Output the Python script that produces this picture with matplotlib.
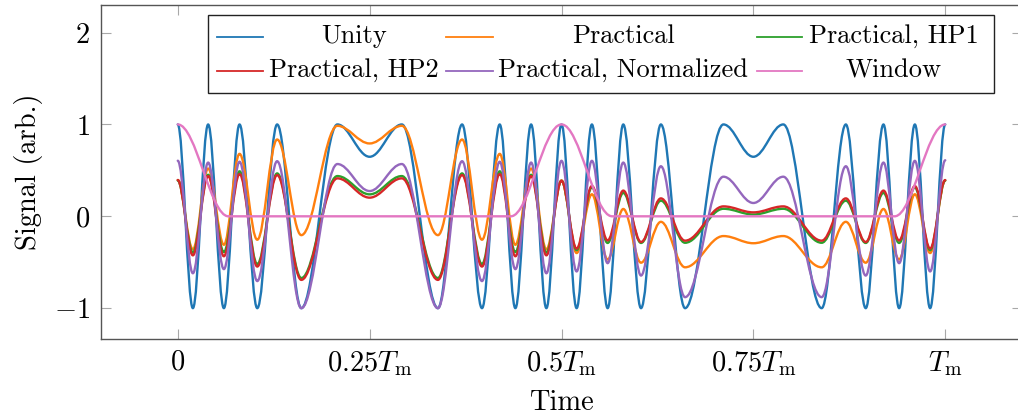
import matplotlib
matplotlib.use("Agg")
import matplotlib.pyplot as plt
from matplotlib.path import Path
from matplotlib.patches import PathPatch, Rectangle
from matplotlib.lines import Line2D

plt.rcParams["mathtext.fontset"] = "cm"
plt.rcParams["font.family"] = "cmr10"
plt.rcParams["axes.unicode_minus"] = False

# Turning points of the traces, time in units of T_m
t_ext = [0.0, 0.0197, 0.0396, 0.0601, 0.0805, 0.1036, 0.1295, 0.1610, 0.2080,
         0.2500, 0.2920, 0.3390, 0.3705, 0.3964, 0.4195, 0.4399, 0.4604, 0.4803,
         0.5000, 0.5197, 0.5396, 0.5601, 0.5805, 0.6036, 0.6295, 0.6610, 0.7110,
         0.7500, 0.7890, 0.8390, 0.8705, 0.8964, 0.9195, 0.9399, 0.9604, 0.9803,
         1.0000]

unity = [1.0, -1.0, 1.0, -1.0, 1.0, -1.0, 1.0, -1.0, 1.0,
         0.648, 1.0, -1.0, 1.0, -1.0, 1.0, -1.0, 1.0, -1.0,
         1.0, -1.0, 1.0, -1.0, 1.0, -1.0, 1.0, -1.0, 1.0,
         0.648, 1.0, -1.0, 1.0, -1.0, 1.0, -1.0, 1.0, -1.0,
         1.0]

practical = [0.395, -0.36, 0.52, -0.31, 0.68, -0.255, 0.836, -0.205, 0.985,
             0.793, 0.985, -0.205, 0.836, -0.255, 0.68, -0.31, 0.52, -0.36,
             0.39, -0.40, 0.24, -0.47, 0.08, -0.505, -0.06, -0.555, -0.215,
             -0.293, -0.215, -0.555, -0.06, -0.505, 0.08, -0.47, 0.24, -0.40,
             0.39]

practical_hp1 = [0.39, -0.395, 0.452, -0.39, 0.49, -0.52, 0.467, -0.672, 0.438,
                 0.239, 0.438, -0.672, 0.467, -0.52, 0.49, -0.39, 0.452, -0.395,
                 0.387, -0.368, 0.315, -0.29, 0.255, -0.29, 0.17, -0.288, 0.082,
                 0.02, 0.082, -0.288, 0.17, -0.29, 0.255, -0.29, 0.315, -0.368,
                 0.39]

practical_hp2 = [0.395, -0.425, 0.438, -0.435, 0.46, -0.547, 0.449, -0.692, 0.413,
                 0.203, 0.413, -0.692, 0.449, -0.547, 0.46, -0.435, 0.438, -0.425,
                 0.387, -0.352, 0.33, -0.262, 0.28, -0.28, 0.195, -0.265, 0.108,
                 0.043, 0.108, -0.265, 0.195, -0.28, 0.28, -0.262, 0.33, -0.352,
                 0.395]

practical_norm = [0.605, -0.62, 0.585, -0.575, 0.594, -0.705, 0.60, -1.0, 0.569,
                  0.275, 0.569, -1.0, 0.60, -0.705, 0.594, -0.575, 0.585, -0.62,
                  0.604, -0.60, 0.604, -0.51, 0.585, -0.645, 0.545, -0.88, 0.431,
                  0.145, 0.431, -0.88, 0.545, -0.645, 0.585, -0.51, 0.604, -0.60,
                  0.61]

# Window: plateau tops and the feet of each taper
t_window = [0.0, 0.066, 0.434, 0.5, 0.566, 0.934, 1.0]
window = [1.0, 0.0, 0.0, 1.0, 0.0, 0.0, 1.0]

labels = ["Unity", "Practical", "Practical, HP1", "Practical, HP2",
          "Practical, Normalized", "Window"]
colors = ["#1f77b4", "#ff7f0e", "#2ca02c", "#d62728", "#9467bd", "#e377c2"]

x_ticks = [0.0, 0.25, 0.5, 0.75, 1.0]
x_tick_labels = [r"$0$", r"$0.25T_\mathrm{m}$", r"$0.5T_\mathrm{m}$",
                 r"$0.75T_\mathrm{m}$", r"$T_\mathrm{m}$"]
y_ticks = [-1, 0, 1, 2]
y_tick_labels = [r"$-1$", r"$0$", r"$1$", r"$2$"]


def smooth_path(t, v, a=0.3634):
    """Cubic Bezier through turning points with flat tangents (half-cosine shape)."""
    verts = [(t[0], v[0])]
    codes = [Path.MOVETO]
    for i in range(len(t) - 1):
        dt = t[i + 1] - t[i]
        verts += [(t[i] + a * dt, v[i]), (t[i + 1] - a * dt, v[i + 1]),
                  (t[i + 1], v[i + 1])]
        codes += [Path.CURVE4] * 3
    return Path(verts, codes)


W, H = 1018, 416
fig = plt.figure(figsize=(W / 100, H / 100), dpi=100)
ax_l, ax_r, ax_t, ax_b = 101, 1022, 5, 338.5
ax = fig.add_axes([ax_l / W, (H - ax_b) / H, (ax_r - ax_l) / W, (ax_b - ax_t) / H])
ax.set_xlim(-0.1, 1.1)
ax.set_ylim(-1.33, 2.3)

traces = [(t_ext, unity), (t_ext, practical), (t_ext, practical_hp1),
          (t_ext, practical_hp2), (t_ext, practical_norm), (t_window, window)]
for (tt, vv), c in zip(traces, colors):
    ax.add_patch(PathPatch(smooth_path(tt, vv), fill=False, edgecolor=c,
                           lw=1.7, capstyle="round", joinstyle="round"))

ax.set_xticks(x_ticks)
ax.set_xticklabels(x_tick_labels)
ax.set_yticks(y_ticks)
ax.set_yticklabels(y_tick_labels)
ax.tick_params(direction="in", length=7.5, width=0.8, color="#a8a8a8",
               top=True, right=True, labelsize=20.5, pad=8)
for s in ax.spines.values():
    s.set_color("#555555")
    s.set_linewidth(1.0)

ax.set_xlabel("Time", fontsize=20.5, labelpad=8)
ax.set_ylabel("Signal (arb.)", fontsize=20.5, labelpad=8)


def axc(px, py):
    return ((px - ax_l) / (ax_r - ax_l), (ax_b - py) / (ax_b - ax_t))


# Legend: three columns, two rows, centered entry text
x0, y0 = axc(208, 93)
x1, y1 = axc(994, 15)
ax.add_patch(Rectangle((x0, y0), x1 - x0, y1 - y0, transform=ax.transAxes,
                       facecolor="white", edgecolor="#222222", lw=1.0,
                       zorder=10, clip_on=False))
line_cols = [(216.7, 263.3), (446.0, 492.7), (756.7, 802.3)]
text_cols = [354.0, 623.5, 894.0]
rows = [37.3, 71.0]
for k, (lab, c) in enumerate(zip(labels, colors)):
    r, col = divmod(k, 3)
    la, lb = line_cols[col]
    (xa, ya), (xb, _) = axc(la, rows[r]), axc(lb, rows[r])
    ax.add_line(Line2D([xa, xb], [ya, ya], transform=ax.transAxes, color=c,
                       lw=1.3, zorder=11, clip_on=False))
    tx, ty = axc(text_cols[col], rows[r] + 6.0)
    ax.text(tx, ty, lab, transform=ax.transAxes, ha="center", va="baseline",
            fontsize=19, zorder=12)

fig.savefig("out.png", dpi=100)
